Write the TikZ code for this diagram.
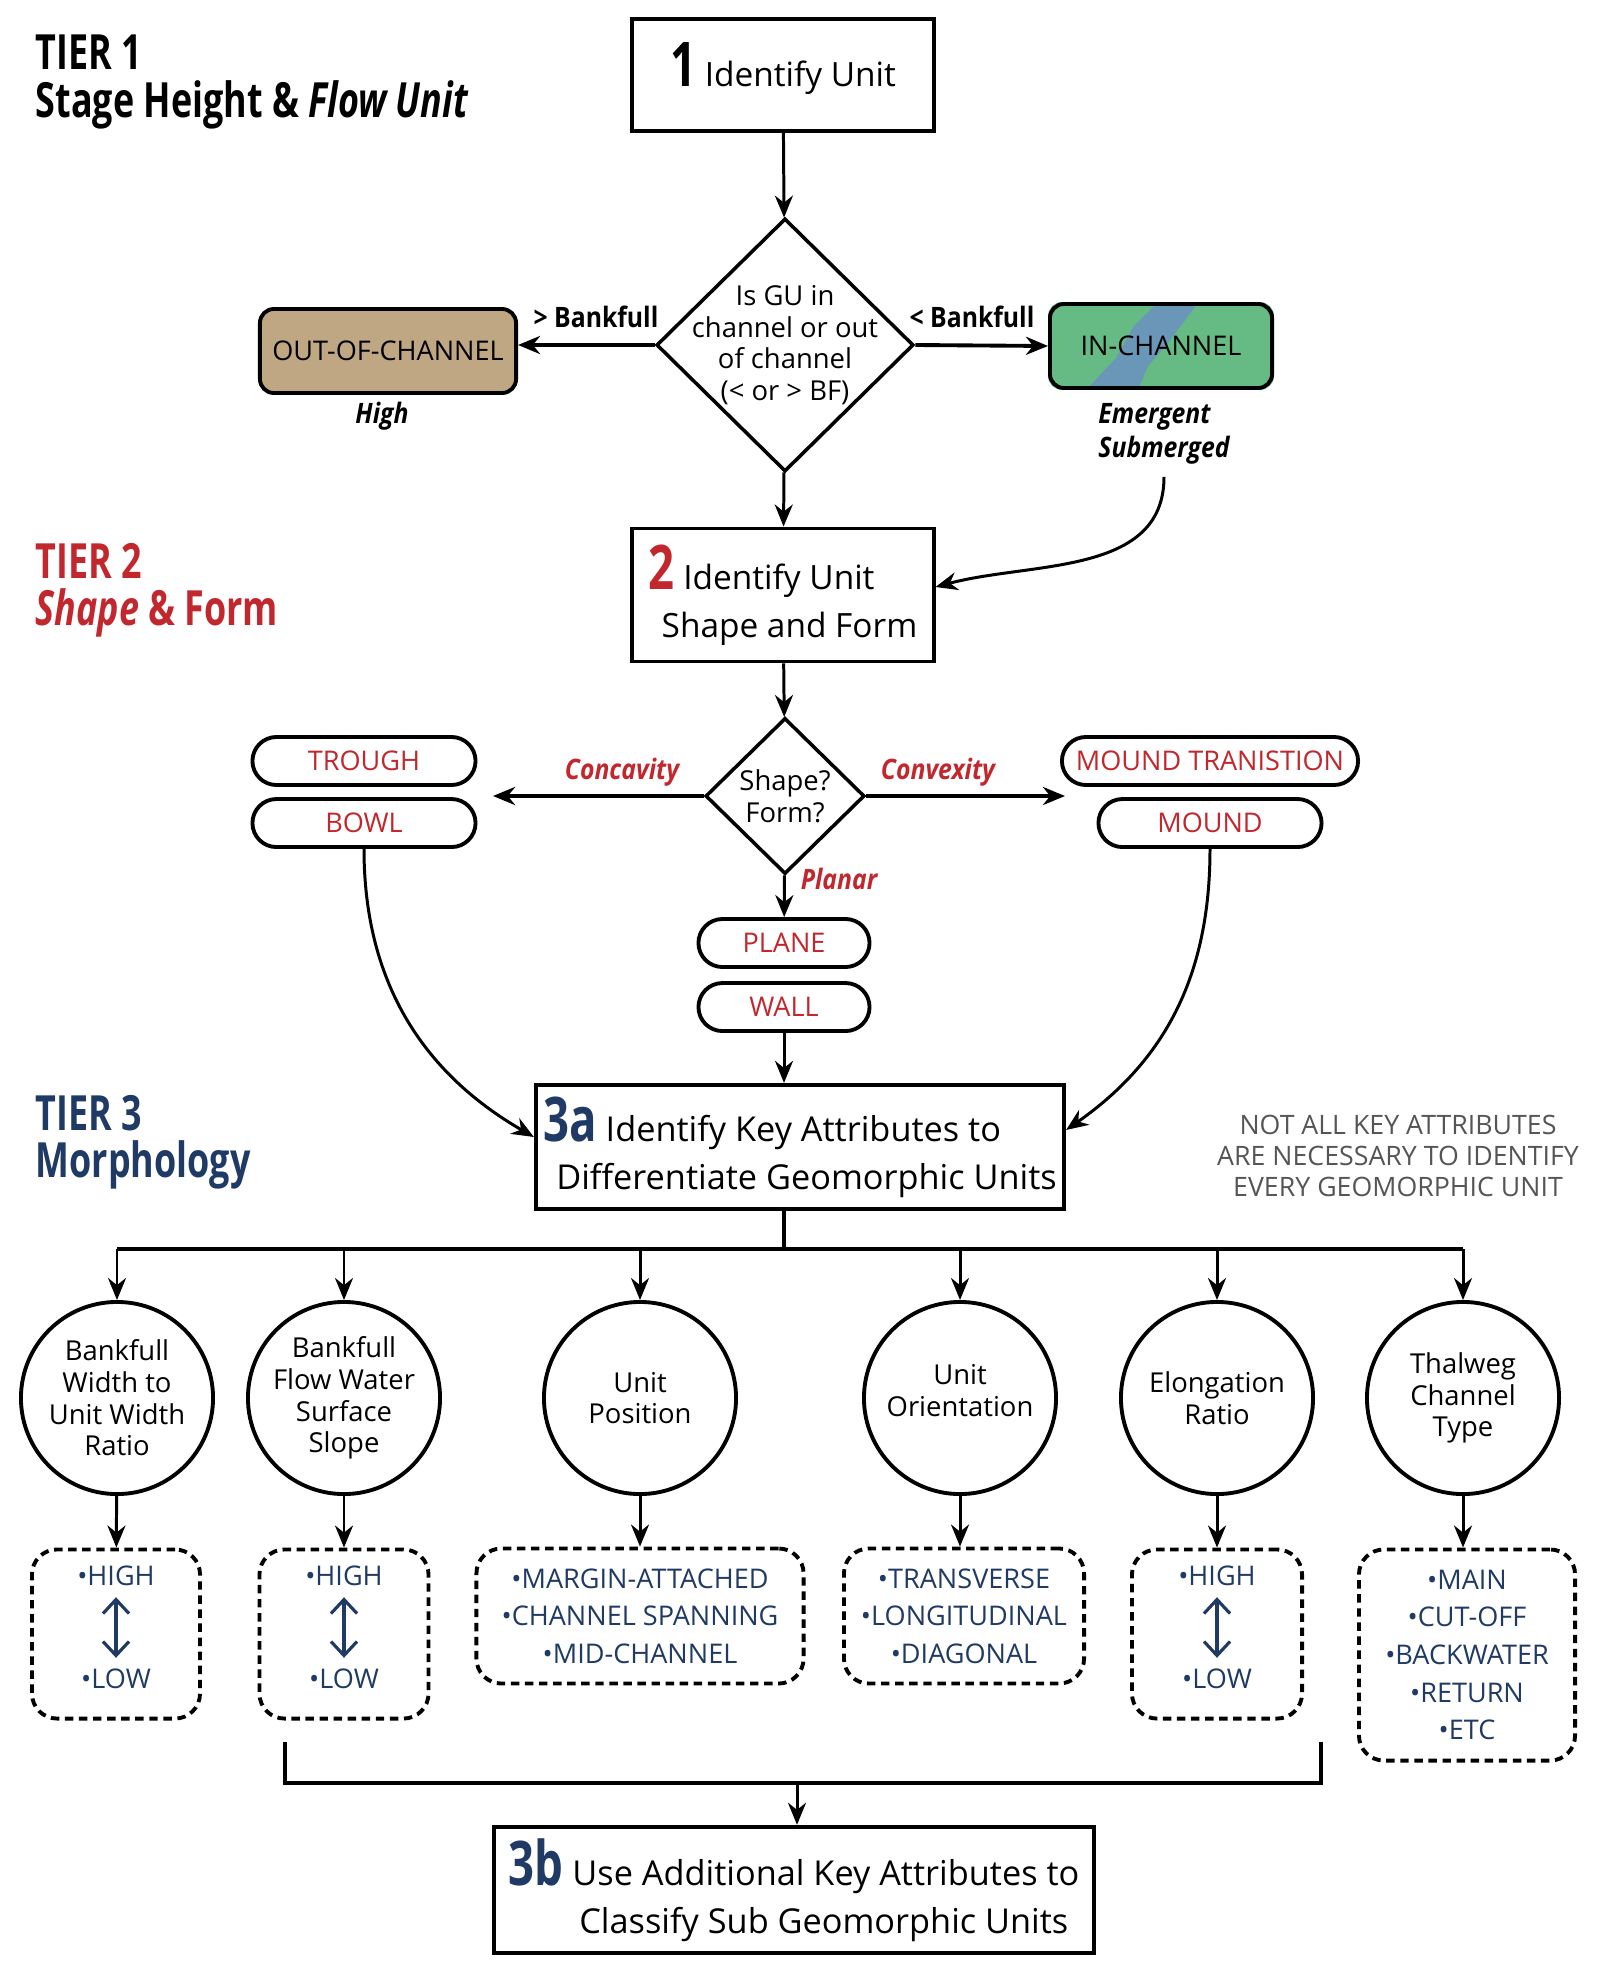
\documentclass[tikz,border=0pt]{standalone}
\usepackage{fontspec}
\setmainfont{Open Sans}
\newfontfamily\condfont[FakeStretch=0.74]{Open Sans}
\newfontfamily\labfont[FakeStretch=0.88]{Open Sans}
\usetikzlibrary{shapes.geometric,arrows.meta,backgrounds}

\definecolor{tierred}{HTML}{C1272D}
\definecolor{tierblue}{HTML}{1F3A64}
\definecolor{outchan}{HTML}{BFA783}
\definecolor{inchan}{HTML}{66BB84}
\definecolor{water}{HTML}{6A96B8}
\definecolor{notegray}{HTML}{555555}

\newcommand{\stepno}[2]{{\color{#1}\condfont\bfseries\fontsize{17.5}{14}\selectfont #2}\ }

\begin{document}
\begin{tikzpicture}[
        x=0.01cm, y=-0.01cm, % one unit = one pixel of the sketch
        >={Stealth[length=2.2mm, width=1.8mm]},
        stepbox/.style={draw, line width=1.1pt, align=center, font=\fontsize{9.5}{13.7}\selectfont},
        decision/.style={draw, line width=1pt, diamond, aspect=1, inner sep=0pt},
        dtext/.style={align=center, font=\fontsize{7.8}{9}\selectfont},
        chanbox/.style={draw, line width=1.1pt, rounded corners=0.14cm, minimum height=0.84cm, font=\fontsize{7.7}{9}\selectfont},
        pill/.style={draw, line width=1.1pt, rounded corners=0.24cm, minimum width=2.23cm, minimum height=0.48cm, inner sep=0pt, text=tierred, font=\fontsize{7.7}{9}\selectfont},
        attr/.style={draw, line width=1.1pt, circle, minimum size=1.92cm, inner sep=0pt, align=center, font=\fontsize{7.8}{9}\selectfont},
        optbox/.style={draw, line width=1.1pt, dash pattern=on 2.4pt off 1.6pt, rounded corners=0.25cm, align=center, text=tierblue, font=\fontsize{7.7}{10.7}\selectfont},
        hilo/.style={inner sep=1pt, text=tierblue, font=\fontsize{7.7}{9}\selectfont},
        tier/.style={anchor=west, align=left, inner sep=0pt, font=\condfont\bfseries\fontsize{13.8}{13.4}\selectfont},
        lbl/.style={font=\labfont\bfseries\fontsize{8}{9.7}\selectfont},
        lbli/.style={font=\labfont\bfseries\itshape\fontsize{8}{9.7}\selectfont},
        note/.style={align=center, text=notegray, font=\fontsize{7.6}{8.8}\selectfont},
        flow/.style={->, line width=0.85pt},
        bus/.style={line width=1.3pt},
        updown/.style={{Straight Barb[length=1.4mm, width=2.6mm]}-{Straight Barb[length=1.4mm, width=2.6mm]}, line width=0.9pt, draw=tierblue, shorten <=2pt, shorten >=2pt}
    ]
    \useasboundingbox (0,0) rectangle (1600,1988);

    % Tier titles
    \node[tier] (T1) at (35,82) {TIER 1\\Stage Height \& \textit{Flow Unit}};
    \node[tier, text=tierred] (T2) at (35,590) {TIER 2\\\textit{Shape} \& Form};
    \node[tier, text=tierblue] (T3) at (35,1142) {TIER 3\\Morphology};

    % Tier 1 nodes
    \node[stepbox, minimum width=3.01cm, minimum height=1.12cm, text depth=0.2cm] (S1) at (783,75) {\stepno{black}{1}Identify Unit};
    \node[decision, minimum width=2.57cm, minimum height=2.53cm,
          label={[dtext]center:{Is GU in\\channel or out\\of channel\\(< or > BF)}}] (GU) at (785,345) {};
    \node[chanbox, fill=outchan, minimum width=2.56cm] (OUT) at (388,351) {OUT-OF-CHANNEL};
    \node[chanbox, minimum width=2.22cm] (IN) at (1161,346) {IN-CHANNEL};
    \begin{scope}[on background layer]
      \clip[rounded corners=0.14cm] (IN.south west) rectangle (IN.north east);
      \fill[inchan] (IN.south west) rectangle (IN.north east);
      \fill[water] (1160,300) -- (1200,300) -- (1168,343) -- (1148,366) -- (1137,392)
        -- (1084,392) -- (1116,358) -- (1134,326) -- cycle;
    \end{scope}
    \node[lbl] (gtBF) at (596,317) {> Bankfull};
    \node[lbl] (ltBF) at (972,317) {< Bankfull};
    \node[lbli] (high) at (382,416) {High};
    \node[lbli, align=left] (emsub) at (1164,434) {Emergent\\Submerged};

    % Tier 2 nodes
    \node[stepbox, align=left, minimum width=3.01cm, minimum height=1.33cm] (S2) at (783,595)
        {\stepno{tierred}{2}Identify Unit\\\hspace*{0.13cm}Shape and Form};
    \node[decision, minimum width=1.59cm, minimum height=1.56cm,
          label={[dtext]center:{Shape?\\Form?}}] (SF) at (785,796) {};
    \node[lbli, text=tierred] (conc) at (622,772) {Concavity};
    \node[lbli, text=tierred] (conv) at (938,772) {Convexity};
    \node[lbli, text=tierred] (plan) at (839,879) {Planar};
    \coordinate (concEnd) at (493,796);
    \coordinate (convEnd) at (1065,796);

    \node[pill] (TR) at (364,761) {TROUGH};
    \node[pill, node distance=0.62cm, below of=TR] (BO) {BOWL};
    \node[pill, minimum width=2.96cm] (MT) at (1210,761) {MOUND TRANISTION};
    \node[pill, node distance=0.62cm, below of=MT] (MO) {MOUND};
    \node[pill, minimum width=1.71cm] (PL) at (784,943) {PLANE};
    \node[pill, minimum width=1.71cm, node distance=0.64cm, below of=PL] (WA) {WALL};

    % Tier 3 nodes
    \node[stepbox, align=left, minimum width=5.28cm, minimum height=1.23cm, inner xsep=2pt, font=\fontsize{9.75}{13.7}\selectfont] (A3) at (800,1147)
        {\stepno{tierblue}{3a}Identify Key Attributes to\\\hspace*{0.13cm}Differentiate Geomorphic Units};
    \node[note] (nb) at (1398,1156) {NOT ALL KEY ATTRIBUTES\\ARE NECESSARY TO IDENTIFY\\EVERY GEOMORPHIC UNIT};

    \node[attr] (C1) at (117,1398) {Bankfull\\Width to\\Unit Width\\Ratio};
    \node[attr] (C2) at (344,1398) {Bankfull\\Flow Water\\Surface\\Slope};
    \node[attr] (C3) at (640,1398) {Unit\\Position};
    \node[attr] (C4) at (960,1398) {Unit\\Orientation\\[-4.7pt]};
    \node[attr] (C5) at (1217,1398) {Elongation\\Ratio};
    \node[attr] (C6) at (1463,1398) {Thalweg\\Channel\\Type};

    \node[optbox, minimum width=1.68cm, minimum height=1.69cm] (R1) at (116,1634) {};
    \node[hilo] (H1) at (116,1576) {\textbullet HIGH};
    \node[hilo] (L1) at (116,1679) {\textbullet LOW};
    \node[optbox, minimum width=1.69cm, minimum height=1.69cm] (R2) at (344,1634) {};
    \node[hilo] (H2) at (344,1576) {\textbullet HIGH};
    \node[hilo] (L2) at (344,1679) {\textbullet LOW};
    \node[optbox, minimum width=3.27cm, minimum height=1.35cm] (R3) at (640,1616)
        {\textbullet MARGIN-ATTACHED\\\textbullet CHANNEL SPANNING\\\textbullet MID-CHANNEL};
    \node[optbox, minimum width=2.40cm, minimum height=1.35cm] (R4) at (964,1616)
        {\textbullet TRANSVERSE\\\textbullet LONGITUDINAL\\\textbullet DIAGONAL};
    \node[optbox, minimum width=1.70cm, minimum height=1.69cm] (R5) at (1217,1634) {};
    \node[hilo] (H5) at (1217,1576) {\textbullet HIGH};
    \node[hilo] (L5) at (1217,1679) {\textbullet LOW};
    \node[optbox, minimum width=2.16cm, minimum height=2.11cm] (R6) at (1467,1655)
        {\textbullet MAIN\\\textbullet CUT-OFF\\\textbullet BACKWATER\\\textbullet RETURN\\\textbullet ETC};

    \node[stepbox, align=right, minimum width=6.00cm, minimum height=1.23cm, font=\fontsize{9.75}{13.7}\selectfont] (B3) at (794,1890)
        {\stepno{tierblue}{3b}Use Additional Key Attributes to\\Classify Sub Geomorphic Units\hspace*{0.11cm}};

    \coordinate (busL) at (117,1249);
    \coordinate (brL) at (285,1742);
    \coordinate (brR) at (1321,1742);
    \coordinate (brM) at (797,1783);

    % Draw arrows
    \draw[flow] (S1) -- (GU);
    \draw[flow, line width=1.1pt] (GU.west) -- (OUT.east |- GU.west);
    \draw[flow, line width=1.1pt] (GU.east) -- (IN.west);
    \draw[flow] (GU) -- (S2);
    \draw[flow] (emsub.south) to[out=-90, in=15] ([yshift=0.08cm]S2.east);

    \draw[flow] (S2) -- (SF);
    \draw[flow, line width=1.1pt] (SF.west) -- (concEnd);
    \draw[flow, line width=1.1pt] (SF.east) -- (convEnd);
    \draw[flow] (SF) -- (PL);
    \draw[flow] (WA.south) -- (WA.south |- A3.north);
    \draw[flow] (BO.south) to[out=-90, in=150] ([yshift=0.1cm]A3.west);
    \draw[flow] (MO.south) to[out=-90, in=35] ([yshift=0.17cm]A3.east);

    % Attribute bus
    \draw[bus] (A3.south -| WA) -- (busL -| WA);
    \draw[bus] (C1 |- busL) -- (C6 |- busL);
    \draw[flow] (C1 |- busL) -- (C1);
    \draw[flow] (C2 |- busL) -- (C2);
    \draw[flow] (C3 |- busL) -- (C3);
    \draw[flow] (C4 |- busL) -- (C4);
    \draw[flow] (C5 |- busL) -- (C5);
    \draw[flow] (C6 |- busL) -- (C6);

    \draw[flow] (C1) -- (R1);
    \draw[flow] (C2) -- (R2);
    \draw[flow] (C3) -- (R3);
    \draw[flow] (C4.south) -- (C4.south |- R4.north);
    \draw[flow] (C5) -- (R5);
    \draw[flow] (C6.south) -- (C6.south |- R6.north);

    \draw[updown] (H1) -- (L1);
    \draw[updown] (H2) -- (L2);
    \draw[updown] (H5) -- (L5);

    % Bracket to 3b
    \draw[bus] (brL) |- (brM) -| (brR);
    \draw[flow] (brM) -- (brM |- B3.north);

\end{tikzpicture}
\end{document}
